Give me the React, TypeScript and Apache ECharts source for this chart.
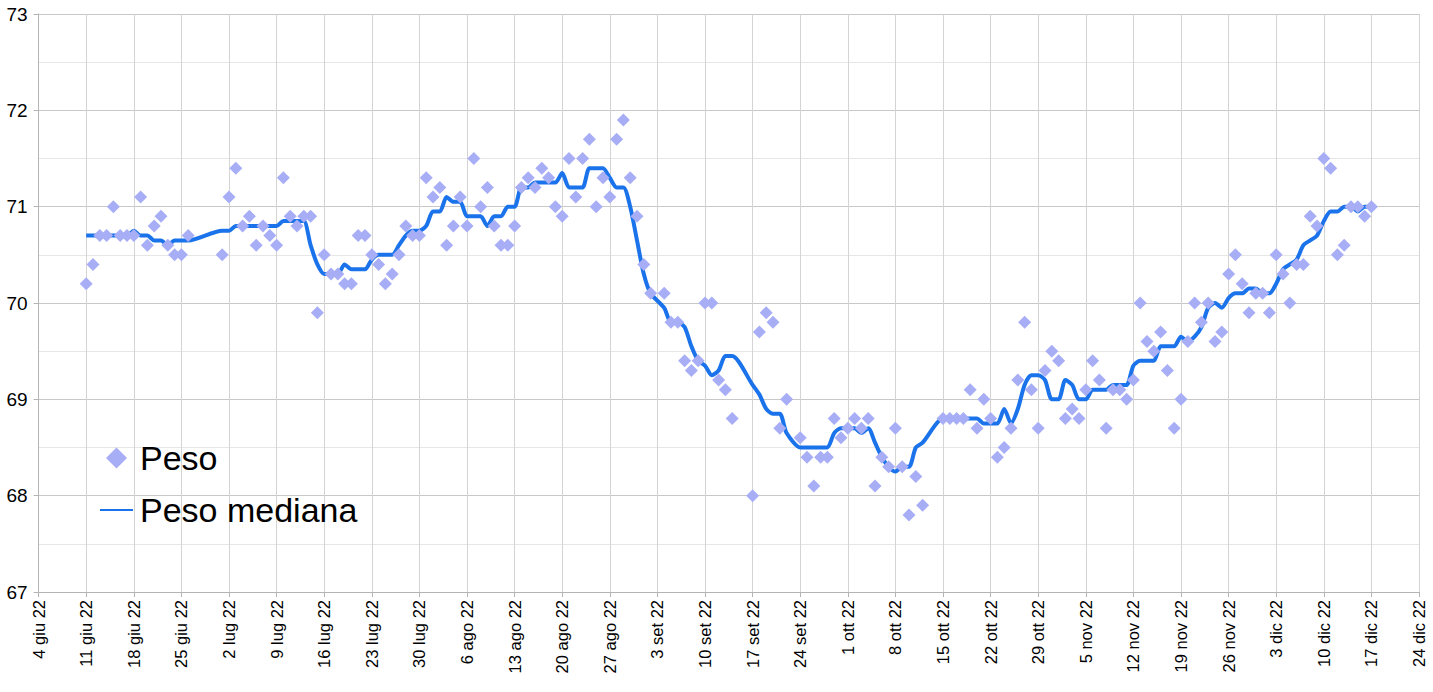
import React, { useEffect, useRef } from "react";
import * as echarts from "echarts";

const START = Date.UTC(2022, 5, 4);
const DAY = 86400000;
const MESI = ["gen", "feb", "mar", "apr", "mag", "giu", "lug", "ago", "set", "ott", "nov", "dic"];
const X_MIN_DAY = 0;
const X_MAX_DAY = 203;
const WEEK = 7;

const dates: string[] = [
  // giugno
  "06-11", "06-12", "06-13", "06-14", "06-15", "06-16", "06-17", "06-18", "06-19", "06-20", "06-21", "06-22", "06-23", "06-24", "06-25", "06-26",
  // luglio
  "07-01", "07-02", "07-03", "07-04", "07-05", "07-06", "07-07", "07-08", "07-09", "07-10", "07-11", "07-12", "07-13", "07-14", "07-15", "07-16",
  "07-17", "07-18", "07-19", "07-20", "07-21", "07-22", "07-23", "07-24", "07-25", "07-26", "07-27", "07-28", "07-29", "07-30", "07-31",
  // agosto
  "08-01", "08-02", "08-03", "08-04", "08-05", "08-06", "08-07", "08-08", "08-09", "08-10", "08-11", "08-12", "08-13", "08-14", "08-15", "08-16",
  "08-17", "08-18", "08-19", "08-20", "08-21", "08-22", "08-23", "08-24", "08-25", "08-26", "08-27", "08-28", "08-29", "08-30", "08-31",
  // settembre
  "09-01", "09-02", "09-04", "09-05", "09-06", "09-07", "09-08", "09-09", "09-10", "09-11", "09-12", "09-13", "09-14",
  "09-17", "09-18", "09-19", "09-20", "09-21", "09-22", "09-24", "09-25", "09-26", "09-27", "09-28", "09-29", "09-30",
  // ottobre
  "10-01", "10-02", "10-03", "10-04", "10-05", "10-06", "10-07", "10-08", "10-09", "10-10", "10-11", "10-12",
  "10-15", "10-16", "10-17", "10-18", "10-19", "10-20", "10-21", "10-22", "10-23", "10-24", "10-25", "10-26", "10-27", "10-28", "10-29", "10-30", "10-31",
  // novembre
  "11-01", "11-02", "11-03", "11-04", "11-05", "11-06", "11-07", "11-08", "11-09", "11-10", "11-11", "11-12", "11-13", "11-14", "11-15",
  "11-16", "11-17", "11-18", "11-19", "11-20", "11-21", "11-22", "11-23", "11-24", "11-25", "11-26", "11-27", "11-28", "11-29", "11-30",
  // dicembre
  "12-01", "12-02", "12-03", "12-04", "12-05", "12-06", "12-07", "12-08", "12-09", "12-10", "12-11", "12-12", "12-13", "12-14", "12-15", "12-16", "12-17",
];

const peso: number[] = [
  // giugno
  70.2, 70.4, 70.7, 70.7, 71.0, 70.7, 70.7, 70.7, 71.1, 70.6, 70.8, 70.9, 70.6, 70.5, 70.5, 70.7,
  // luglio
  70.5, 71.1, 71.4, 70.8, 70.9, 70.6, 70.8, 70.7, 70.6, 71.3, 70.9, 70.8, 70.9, 70.9, 69.9, 70.5,
  70.3, 70.3, 70.2, 70.2, 70.7, 70.7, 70.5, 70.4, 70.2, 70.3, 70.5, 70.8, 70.7, 70.7, 71.3,
  // agosto
  71.1, 71.2, 70.6, 70.8, 71.1, 70.8, 71.5, 71.0, 71.2, 70.8, 70.6, 70.6, 70.8, 71.2, 71.3, 71.2,
  71.4, 71.3, 71.0, 70.9, 71.5, 71.1, 71.5, 71.7, 71.0, 71.3, 71.1, 71.7, 71.9, 71.3, 70.9,
  // settembre
  70.4, 70.1, 70.1, 69.8, 69.8, 69.4, 69.3, 69.4, 70.0, 70.0, 69.2, 69.1, 68.8,
  68.0, 69.7, 69.9, 69.8, 68.7, 69.0, 68.6, 68.4, 68.1, 68.4, 68.4, 68.8, 68.6,
  // ottobre
  68.7, 68.8, 68.7, 68.8, 68.1, 68.4, 68.3, 68.7, 68.3, 67.8, 68.2, 67.9,
  68.8, 68.8, 68.8, 68.8, 69.1, 68.7, 69.0, 68.8, 68.4, 68.5, 68.7, 69.2, 69.8, 69.1, 68.7, 69.3, 69.5,
  // novembre
  69.4, 68.8, 68.9, 68.8, 69.1, 69.4, 69.2, 68.7, 69.1, 69.1, 69.0, 69.2, 70.0, 69.6, 69.5,
  69.7, 69.3, 68.7, 69.0, 69.6, 70.0, 69.8, 70.0, 69.6, 69.7, 70.3, 70.5, 70.2, 69.9, 70.1,
  // dicembre
  70.1, 69.9, 70.5, 70.3, 70.0, 70.4, 70.4, 70.9, 70.8, 71.5, 71.4, 70.5, 70.6, 71.0, 71.0, 70.9, 71.0,
];

const pesoMediana: number[] = [
  // giugno
  70.7, 70.7, 70.7, 70.7, 70.7, 70.7, 70.7, 70.75, 70.7, 70.7, 70.65, 70.65, 70.6, 70.65, 70.65, 70.65,
  // luglio
  70.75, 70.75, 70.8, 70.8, 70.8, 70.8, 70.8, 70.8, 70.8, 70.85, 70.85, 70.85, 70.85, 70.6, 70.4, 70.3,
  70.3, 70.3, 70.4, 70.35, 70.35, 70.35, 70.45, 70.5, 70.5, 70.5, 70.6, 70.7, 70.75, 70.75, 70.8,
  // agosto
  70.95, 70.95, 71.1, 71.05, 71.05, 70.9, 70.9, 70.9, 70.8, 70.9, 70.9, 71.0, 71.0, 71.2, 71.2, 71.25,
  71.25, 71.25, 71.25, 71.35, 71.2, 71.2, 71.2, 71.4, 71.4, 71.4, 71.3, 71.2, 71.2, 71.0, 70.65,
  // settembre
  70.3, 70.1, 69.95, 69.8, 69.8, 69.75, 69.55, 69.4, 69.35, 69.25, 69.3, 69.45, 69.45,
  69.15, 69.05, 68.9, 68.85, 68.85, 68.65, 68.5, 68.5, 68.5, 68.5, 68.5, 68.65, 68.7,
  // ottobre
  68.7, 68.7, 68.65, 68.7, 68.55, 68.4, 68.3, 68.25, 68.3, 68.3, 68.5, 68.55,
  68.8, 68.8, 68.8, 68.8, 68.8, 68.8, 68.75, 68.75, 68.75, 68.9, 68.75, 68.9, 69.15, 69.25, 69.25, 69.2, 69.0,
  // novembre
  69.0, 69.2, 69.15, 69.0, 69.0, 69.1, 69.1, 69.1, 69.15, 69.15, 69.15, 69.35, 69.4, 69.4, 69.4,
  69.55, 69.55, 69.55, 69.65, 69.6, 69.65, 69.75, 69.95, 70.0, 69.95, 70.05, 70.1, 70.1, 70.15, 70.15,
  // dicembre
  70.1, 70.1, 70.2, 70.35, 70.4, 70.45, 70.6, 70.65, 70.7, 70.85, 70.95, 70.95, 71.0, 71.0, 70.95, 71.0, 71.0,
];

const FONT = "'Liberation Sans', Arial, Helvetica, sans-serif";
const DIAMOND_ICON = "path://M10,0 L20,10 L10,20 L0,10 Z";
const LINE_ICON = "path://M0,0 L33,0 L33,2 L0,2 Z";

function dayIndex(md: string): number {
  const [m, d] = md.split("-").map(Number);
  return Math.round((Date.UTC(2022, m - 1, d) - START) / DAY);
}

function labelFor(day: number): string {
  const dt = new Date(START + day * DAY);
  return `${dt.getUTCDate()} ${MESI[dt.getUTCMonth()]} 22`;
}

export default function App() {
  const ref = useRef<HTMLDivElement>(null);

  useEffect(() => {
    if (!ref.current) return;
    const chart = echarts.init(ref.current, undefined, { renderer: "svg" });
    const xs = dates.map(dayIndex);
    const scatterData = xs.map((x, i) => [x, peso[i]]);
    const lineData = xs.map((x, i) => [x, pesoMediana[i]]);

    chart.setOption({
      animation: false,
      backgroundColor: "#ffffff",
      textStyle: { fontFamily: FONT },
      grid: { left: 38.6, right: 14, top: 14, bottom: 100, containLabel: false },
      legend: {
        orient: "vertical",
        left: 100,
        top: 441,
        padding: 0,
        itemWidth: 33,
        itemHeight: 21,
        itemGap: 18,
        symbolKeepAspect: true,
        textStyle: { fontSize: 34, color: "#000000", fontFamily: FONT, padding: [0, 0, 0, 2] },
        data: [
          { name: "Peso", icon: DIAMOND_ICON },
          { name: "Peso mediana", icon: LINE_ICON },
        ],
      },
      xAxis: {
        type: "value",
        min: X_MIN_DAY,
        max: X_MAX_DAY,
        interval: WEEK,
        axisLine: { show: true, lineStyle: { color: "#b4b4b4", width: 1 } },
        axisTick: { show: true, length: 5, lineStyle: { color: "#b4b4b4" } },
        splitLine: { show: true, lineStyle: { color: "#d4d4d4", width: 1 } },
        axisLabel: {
          rotate: 90,
          margin: 8,
          fontSize: 16.5,
          color: "#000000",
          fontFamily: FONT,
          formatter: (v: number) => labelFor(v),
        },
      },
      yAxis: {
        type: "value",
        min: 67,
        max: 73,
        interval: 1,
        axisLine: { show: true, lineStyle: { color: "#b4b4b4", width: 1 } },
        axisTick: { show: true, length: 5, lineStyle: { color: "#b4b4b4" } },
        minorTick: { show: false, splitNumber: 2 },
        minorSplitLine: { show: true, lineStyle: { color: "#e6e6e6", width: 1 } },
        splitLine: { show: true, lineStyle: { color: "#c8c8c8", width: 1 } },
        axisLabel: { margin: 11, fontSize: 19, color: "#000000", fontFamily: FONT },
      },
      series: [
        {
          name: "Peso mediana",
          type: "line",
          data: lineData,
          symbol: "none",
          smooth: 0.25,
          lineStyle: { color: "#1a73ea", width: 4 },
          itemStyle: { color: "#1a73ea" },
          z: 2,
        },
        {
          name: "Peso",
          type: "scatter",
          data: scatterData,
          symbol: "diamond",
          symbolSize: 13,
          itemStyle: { color: "#a8aef6", opacity: 1 },
          z: 3,
        },
      ],
    });

    return () => chart.dispose();
  }, []);

  return (
    <div
      ref={ref}
      style={{ position: "fixed", left: 0, top: 0, width: 1433, height: 692, background: "#fff" }}
    />
  );
}
